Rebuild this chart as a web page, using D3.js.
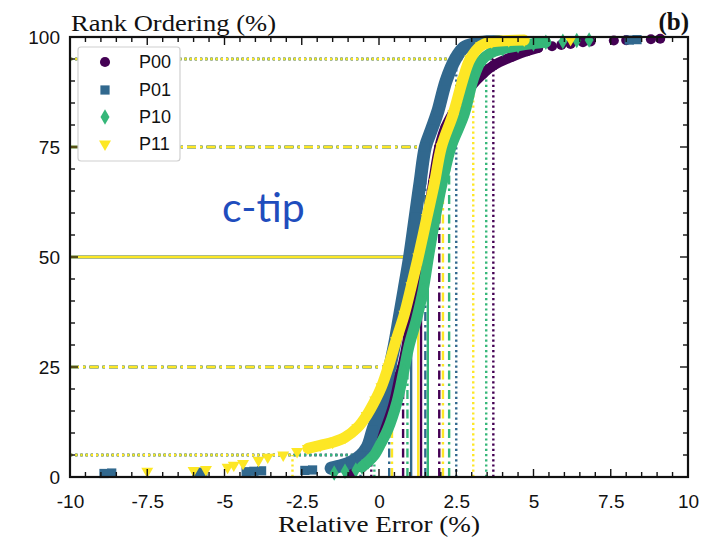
<!DOCTYPE html>
<html>
<head>
<meta charset="utf-8">
<script src="https://cdn.jsdelivr.net/npm/d3@7"></script>
<style>
  body { margin: 0; background: #fff; }
  svg { display: block; }
</style>
</head>
<body>
<svg id="chart" width="707" height="540"></svg>
<script>
// ---- data -------------------------------------------------------------
const seriesNames  = ["P00", "P01", "P10", "P11"];
const seriesColors = ["#440154", "#31688e", "#35b779", "#fde725"];

const xTicks      = [-10, -7.5, -5, -2.5, 0, 2.5, 5, 7.5, 10];
const xTickLabels = ["-10", "-7.5", "-5", "-2.5", "0", "2.5", "5", "7.5", "10"];
const yTicks      = [0, 25, 50, 75, 100];
const yTickLabels = ["0", "25", "50", "75", "100"];

// rank levels (%) marked with guide lines
const percentileLevels = [5, 25, 50, 75, 95];
// relative error (%) reached at each of those levels
const p00Percentiles = [-0.25, 0.78, 1.36, 1.95, 3.70];
const p01Percentiles = [-0.60, 0.33, 1.04, 1.50, 2.50];
const p10Percentiles = [-0.15, 0.92, 1.58, 2.27, 3.47];
const p11Percentiles = [-2.80, 0.42, 1.27, 2.07, 3.05];

// sorted relative error (%) vs rank ordering (%) — dense part of each curve
const p00Body = [[-0.55,2.2],[-0.4,3.2],[-0.25,5],[-0.1,7.5],[0.03,10.7],[0.25,14],[0.42,17],[0.6,22],[0.75,25],[0.97,33],[1.15,41],[1.36,50],[1.55,58],[1.75,67],[1.95,75],[2.15,79.5],[2.5,84],[2.95,88.5],[3.35,91.5],[3.7,93.5],[4.3,95.5],[4.8,96.8],[5.15,97.5]];
const p01Body = [[-1.55,2.0],[-1.2,2.6],[-0.9,3.4],[-0.6,4.8],[-0.38,6.8],[-0.2,10.7],[0.1,17],[0.32,24],[0.5,30],[0.65,36],[0.81,42.5],[0.99,50],[1.17,59],[1.33,67],[1.5,75],[1.7,79],[1.9,83],[2.17,90],[2.47,95],[2.75,97.6],[3.1,98.5],[3.5,98.9],[3.9,99.0]];
const p10Body = [[-0.55,2.3],[-0.35,3.5],[-0.15,5],[0.05,7.5],[0.28,10.7],[0.58,17],[0.8,24],[0.98,30],[1.22,36],[1.43,42.5],[1.6,50],[1.82,59],[2.05,67],[2.33,75],[2.75,82.3],[3.05,90.4],[3.3,94.5],[3.6,96.3],[4.0,97.3],[4.5,98.0],[5.0,98.5],[5.4,98.8]];
const p11Body = [[-2.3,6.5],[-1.9,7.2],[-1.5,7.9],[-1.1,9.0],[-0.7,11.2],[-0.4,14],[-0.12,17.5],[0.08,20.5],[0.3,25],[0.55,31],[0.82,37],[1.05,43.5],[1.27,50],[1.55,59],[1.8,67],[2.02,75],[2.4,82.5],[2.7,90],[2.95,95],[3.3,98],[3.65,98.9],[4.2,99.2],[4.7,99.3]];

// isolated points in the tails of each curve
const p00Tail = [[-0.9,1.0],[5.6,97.9],[5.9,98.2],[6.2,98.4],[6.6,98.8],[6.85,99.0],[7.6,99.2],[8.0,99.3],[8.8,99.5],[9.1,99.6]];
const p01Tail = [[-8.9,0.8],[-8.65,0.9],[-5.9,1.0],[-5.7,1.1],[-4.3,1.2],[-4.05,1.3],[-3.8,1.4],[-2.4,1.5],[-2.15,1.6],[4.2,99.2],[8.1,99.3],[8.35,99.4]];
const p10Tail = [[-1.45,0.9],[-1.1,1.3],[-0.75,1.6],[5.95,99.0],[6.4,99.2],[6.8,99.3]];
const p11Tail = [[-7.5,1.3],[-6.0,1.5],[-5.6,1.7],[-4.9,2.2],[-4.7,2.7],[-4.4,3.1],[-3.9,3.8],[-3.6,4.5],[-3.1,5.0],[-2.65,5.8],[6.2,99.4]];

const series = seriesNames.map((name, i) => ({
  name,
  color: seriesColors[i],
  body: [p00Body, p01Body, p10Body, p11Body][i],
  tail: [p00Tail, p01Tail, p10Tail, p11Tail][i],
  pct:  [p00Percentiles, p01Percentiles, p10Percentiles, p11Percentiles][i]
}));

// ---- layout -----------------------------------------------------------
const svg = d3.select("#chart");
const plotLeft = 70, plotRight = 688, plotTop = 37, plotBottom = 477;

const x = d3.scaleLinear().domain([-10, 10]).range([plotLeft, plotRight]);
const y = d3.scaleLinear().domain([0, 100]).range([plotBottom, plotTop]);

const symbolFor = [
  d3.symbol().type(d3.symbolCircle).size(80),
  d3.symbol().type(d3.symbolSquare).size(85),
  d3.symbol().type(d3.symbolDiamond).size(70),
  d3.symbol().type(d3.symbolTriangle).size(62)
];
const symbolRotate = [0, 0, 0, 180];
const bandWidth = [10, 13, 11, 11];

// ---- percentile guide lines (under the curves) -------------------------
const styleFor = lvl => (lvl === 50) ? null : (lvl === 25 || lvl === 75) ? "9,4,2.5,4" : "2.2,3";
const guides = svg.append("g").attr("class", "guides");
series.forEach(s => {
  percentileLevels.forEach((lvl, j) => {
    const v = s.pct[j];
    guides.append("line")
      .attr("x1", x(-10)).attr("x2", x(v))
      .attr("y1", y(lvl)).attr("y2", y(lvl))
      .attr("stroke", s.color).attr("stroke-width", lvl === 50 ? 2.6 : 2.4)
      .attr("stroke-dasharray", styleFor(lvl));
    guides.append("line")
      .attr("x1", x(v)).attr("x2", x(v))
      .attr("y1", y(0)).attr("y2", y(lvl))
      .attr("stroke", s.color).attr("stroke-width", 2.4)
      .attr("stroke-dasharray", styleFor(lvl));
  });
});

// ---- curves ------------------------------------------------------------
const line = d3.line().x(d => x(d[0])).y(d => y(d[1])).curve(d3.curveCatmullRom);
series.forEach((s, i) => {
  const g = svg.append("g").attr("class", "series-" + s.name);
  g.append("path")
    .attr("d", line(s.body))
    .attr("fill", "none")
    .attr("stroke", s.color)
    .attr("stroke-width", bandWidth[i])
    .attr("stroke-linejoin", "round")
    .attr("stroke-linecap", "round");
  g.selectAll("path.pt")
    .data(s.body.concat(s.tail))
    .join("path")
    .attr("class", "pt")
    .attr("d", symbolFor[i])
    .attr("transform", d => `translate(${x(d[0])},${y(d[1])}) rotate(${symbolRotate[i]})`)
    .attr("fill", s.color);
});

// ---- frame and ticks ---------------------------------------------------
const frame = svg.append("g");
const minorX = d3.range(-10, 10.001, 0.5);
const minorY = d3.range(0, 100.001, 5);
minorX.forEach(v => {
  const major = xTicks.some(t => Math.abs(t - v) < 1e-9);
  const len = major ? 8 : 5;
  frame.append("line").attr("x1", x(v)).attr("x2", x(v)).attr("y1", plotBottom).attr("y2", plotBottom - len);
  frame.append("line").attr("x1", x(v)).attr("x2", x(v)).attr("y1", plotTop).attr("y2", plotTop + len);
});
minorY.forEach(v => {
  const major = yTicks.some(t => Math.abs(t - v) < 1e-9);
  const len = major ? 8 : 5;
  frame.append("line").attr("x1", plotLeft).attr("x2", plotLeft + len).attr("y1", y(v)).attr("y2", y(v));
  frame.append("line").attr("x1", plotRight).attr("x2", plotRight - len).attr("y1", y(v)).attr("y2", y(v));
});
frame.selectAll("line").attr("stroke", "#111").attr("stroke-width", 1.4);
frame.append("rect")
  .attr("x", plotLeft).attr("y", plotTop)
  .attr("width", plotRight - plotLeft).attr("height", plotBottom - plotTop)
  .attr("fill", "none").attr("stroke", "#111").attr("stroke-width", 2.2);

// tick labels via the library's axis generators (lines hidden; frame drawn above)
const xAxis = svg.append("g")
  .attr("transform", `translate(0,${plotBottom})`)
  .call(d3.axisBottom(x).tickValues(xTicks).tickFormat((d, i) => xTickLabels[i]).tickSize(0).tickPadding(18));
const yAxis = svg.append("g")
  .attr("transform", `translate(${plotLeft},0)`)
  .call(d3.axisLeft(y).tickValues(yTicks).tickFormat((d, i) => yTickLabels[i]).tickSize(0).tickPadding(10));
[xAxis, yAxis].forEach(a => {
  a.select(".domain").remove();
  a.selectAll("text")
    .attr("font-family", "'Liberation Sans', Arial, sans-serif")
    .attr("font-size", 19)
    .attr("fill", "#111");
});

// ---- titles ------------------------------------------------------------
svg.append("text")
  .attr("x", 71).attr("y", 31)
  .attr("font-family", "'Liberation Serif', serif")
  .attr("font-size", 24)
  .attr("textLength", 205).attr("lengthAdjust", "spacingAndGlyphs")
  .attr("fill", "#111")
  .text("Rank Ordering (%)");

svg.append("text")
  .attr("x", 689).attr("y", 30)
  .attr("text-anchor", "end")
  .attr("font-family", "'Liberation Serif', serif")
  .attr("font-weight", "bold")
  .attr("font-size", 25)
  .attr("fill", "#111")
  .text("(b)");

svg.append("text")
  .attr("x", 379).attr("y", 532)
  .attr("text-anchor", "middle")
  .attr("font-family", "'Liberation Serif', serif")
  .attr("font-size", 24)
  .attr("textLength", 202).attr("lengthAdjust", "spacingAndGlyphs")
  .attr("fill", "#111")
  .text("Relative Error (%)");

svg.append("text")
  .attr("x", 222).attr("y", 222)
  .attr("font-family", "Lato, 'Open Sans', sans-serif")
  .attr("font-size", 41)
  .attr("fill", "#1f4dbd")
  .text("c-tip");

// ---- legend ------------------------------------------------------------
const legend = svg.append("g");
legend.append("rect")
  .attr("x", 78).attr("y", 47).attr("width", 102).attr("height", 114)
  .attr("rx", 3)
  .attr("fill", "#fff").attr("stroke", "#d0d0d0").attr("stroke-width", 1.2);
const rowY = [62, 90, 117, 144];
series.forEach((s, i) => {
  legend.append("path")
    .attr("d", symbolFor[i]())
    .attr("transform", `translate(105,${rowY[i]}) rotate(${symbolRotate[i]})`)
    .attr("fill", s.color);
  legend.append("text")
    .attr("x", 139).attr("y", rowY[i])
    .attr("dy", "0.36em")
    .attr("font-family", "'Liberation Sans', Arial, sans-serif")
    .attr("font-size", 18)
    .attr("fill", "#111")
    .text(s.name);
});
</script>
</body>
</html>
